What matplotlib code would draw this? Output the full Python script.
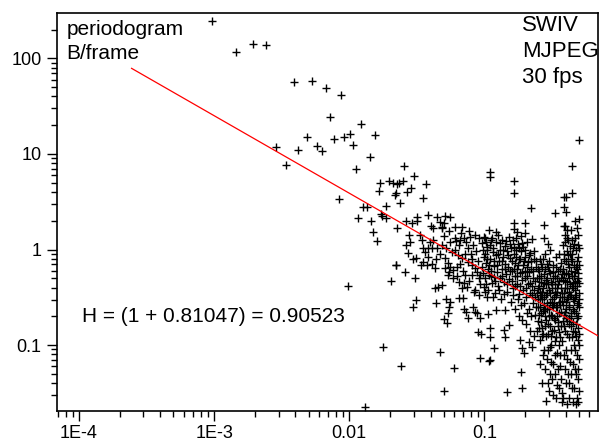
import numpy as np
import matplotlib
matplotlib.use("Agg")
import matplotlib.pyplot as plt
from matplotlib.ticker import FixedLocator, FixedFormatter, LogLocator, NullFormatter

plt.rcParams["font.family"] = ["Liberation Sans", "DejaVu Sans"]

# periodogram points, (log10 frequency, log10 power)
sparse_points = [
    (-3.015, 2.393), (-2.835, 2.069), (-2.711, 2.150), (-2.617, 2.139), (-2.539, 1.075),
    (-2.469, 0.887), (-2.410, 1.755), (-2.376, 1.041), (-2.313, 1.180), (-2.274, 1.766),
    (-2.235, 1.083), (-2.198, 1.030), (-2.168, 1.692), (-2.141, 1.386), (-2.109, 1.153),
    (-2.079, 0.525), (-2.059, 1.619), (-2.035, 1.180), (-2.010, -0.382), (-1.993, 1.205),
    (-1.973, 1.093), (-1.950, 0.845), (-1.931, 0.335), (-1.916, 1.316), (-1.894, 0.441),
    (-1.881, -1.647), (-1.869, 0.448), (-1.847, 0.964), (-1.837, 0.298), (-1.820, 0.183),
    (-1.807, 1.201), (-1.793, 0.086), (-1.780, 0.615), (-1.770, 0.699), (-1.761, 0.374),
    (-1.758, 0.350), (-1.746, -1.017), (-1.731, 0.455), (-1.724, 0.335), (-1.706, 0.717),
    (-1.693, -0.329), (-1.676, 0.692), (-1.664, 0.567), (-1.654, 0.588), (-1.657, -0.162),
    (-1.647, 0.682), (-1.647, 0.222), (-1.630, 0.699), (-1.627, 0.483), (-1.615, -1.219),
    (-1.600, 0.717), (-1.595, 0.873), (-1.587, -0.232), (-1.576, 0.295), (-1.573, 0.601),
    (-1.544, 0.640), (-1.536, 0.274), (-1.526, -0.598), (-1.519, 0.772), (-1.506, -0.528),
    (-1.499, 0.337), (-1.496, 0.301), (-1.450, 0.542), (-1.432, 0.685), (-1.413, 0.356),
    (-1.393, 0.246), (-1.383, 0.225), (-1.358, -0.563), (-1.350, 0.337), (-1.331, 0.291),
    (-1.326, -1.075), (-1.313, 0.238), (-1.301, 0.274), (-1.301, -1.485), (-1.299, -0.727),
    (-1.289, 0.350), (-1.284, -0.518), (-1.276, -0.772), (-1.269, -0.667), (-1.264, -0.605),
    (-1.257, 0.337), (-1.250, -0.552), (-1.227, -1.236), (-1.220, 0.238), (-1.165, 0.232),
    (-1.161, -0.504), (-1.153, -0.622), (-1.133, -0.657), (-1.121, -0.713), (-1.084, -0.601),
    (-1.067, -0.651), (-1.054, -0.667), (-1.047, -0.866), (-1.035, -0.720), (-1.035, -1.132),
    (-1.022, -0.887), (-0.973, -0.678), (-0.968, -1.169), (-0.956, 0.814), (-0.956, 0.762),
    (-0.931, -1.033), (-0.833, -1.487), (-0.778, 0.720), (-0.778, 0.591), (-0.778, 0.274),
    (-0.778, 0.218), (-0.726, -1.278), (-0.721, -1.452), (-0.699, 0.280), (-0.654, 0.431),
    (-0.556, 0.259), (-0.474, 0.382), (-0.407, 0.546), (-0.393, 0.546), (-0.407, 0.448),
    (-0.396, 0.389), (-0.400, 0.246), (-0.350, 0.588), (-0.350, 0.870), (-0.301, 1.142),
    (-0.301, 0.322), (-0.911, -0.633), (-0.844, -0.633), (-0.820, -0.790), (-0.857, -0.842),
    (-0.844, -0.912), (-0.956, -0.818), (-0.956, -0.912), (-0.956, -1.156), (-0.733, -0.947),
    (-0.721, -0.737), (-0.721, -1.033), (-0.709, -1.086), (-0.672, -0.964), (-0.647, -1.017),
]

mid_points = [
    (-1.556, 0.152), (-1.548, 0.082), (-1.565, -0.040), (-1.652, -0.162), (-1.506, -0.086),
    (-1.474, 0.152), (-1.461, 0.099), (-1.450, 0.019), (-1.417, 0.013), (-1.387, 0.013),
    (-1.350, 0.013), (-1.413, -0.075), (-1.387, -0.155), (-1.368, -0.190), (-1.450, -0.128),
    (-1.313, 0.222), (-1.301, 0.144), (-1.252, 0.082), (-1.210, 0.089), (-1.178, 0.099),
    (-1.153, 0.123), (-1.136, 0.082), (-1.104, 0.134), (-1.067, 0.152), (-1.215, -0.005),
    (-1.195, -0.058), (-1.165, -0.092), (-1.146, -0.050), (-1.121, -0.128), (-1.289, -0.092),
    (-1.269, -0.144), (-1.252, -0.180), (-1.235, -0.214), (-1.294, -0.197), (-1.264, -0.232),
    (-1.202, -0.180), (-1.091, -0.162), (-1.067, -0.197), (-1.054, -0.232), (-1.030, -0.267),
    (-1.013, -0.249), (-0.993, -0.301), (-0.968, -0.267), (-1.091, -0.267), (-1.111, -0.329),
    (-1.128, -0.389), (-1.190, -0.337), (-1.165, -0.400), (-1.339, -0.389), (-1.368, -0.400),
    (-1.313, -0.371), (-1.079, -0.441), (-1.042, -0.476), (-0.993, -0.441), (-0.980, -0.494),
    (-1.005, -0.389), (-1.042, 0.117), (-1.005, 0.134), (-1.017, 0.065), (-0.980, -0.005),
    (-1.190, 0.047), (-1.511, -0.301), (-1.190, -0.510), (-1.424, -0.162), (-1.313, 0.047),
    (-1.383, 0.099), (-1.280, 0.020), (-1.240, -0.030), (-1.220, 0.120), (-1.180, -0.150),
    (-1.160, -0.220), (-1.140, -0.270), (-1.120, 0.020), (-1.100, -0.050), (-1.090, -0.100),
    (-1.080, 0.050), (-1.060, -0.020), (-1.050, -0.120), (-1.040, -0.300), (-1.030, -0.360),
    (-1.020, -0.180), (-1.010, 0.000), (-1.000, -0.080), (-0.990, -0.140), (-0.985, 0.080),
    (-0.975, -0.200), (-1.200, -0.280), (-1.230, -0.300), (-1.270, -0.270), (-1.330, -0.050),
    (-1.360, -0.100), (-1.400, 0.080), (-1.440, -0.030), (-1.470, -0.160), (-1.530, -0.100),
    (-1.580, 0.050), (-1.150, -0.350), (-1.070, -0.420), (-1.110, 0.190), (-1.260, 0.190),
    (-1.170, 0.170),
]

high_points = [
    (-0.965, 0.20), (-0.960, 0.05), (-0.955, -0.10), (-0.950, -0.22), (-0.945, -0.35),
    (-0.940, 0.12), (-0.935, -0.03), (-0.930, -0.17), (-0.925, -0.29), (-0.920, -0.45),
    (-0.915, 0.08), (-0.910, -0.06), (-0.905, -0.24), (-0.900, -0.38), (-0.895, 0.15),
    (-0.890, -0.12), (-0.885, -0.30), (-0.880, 0.00), (-0.875, -0.52), (-0.870, -0.20),
    (-0.865, 0.10), (-0.860, -0.08), (-0.855, -0.34), (-0.850, -0.15), (-0.845, 0.04),
    (-0.840, -0.26), (-0.835, -0.44), (-0.830, -0.02), (-0.825, -0.18), (-0.820, 0.13),
    (-0.815, -0.31), (-0.810, -0.09), (-0.805, -0.55), (-0.800, 0.02), (-0.795, -0.22),
    (-0.790, -0.40), (-0.785, 0.10), (-0.780, -0.05), (-0.775, -0.28), (-0.770, -0.14),
    (-0.765, 0.00), (-0.760, -0.36), (-0.755, -0.20), (-0.750, 0.06), (-0.745, -0.10),
    (-0.740, -0.47), (-0.735, -0.25), (-0.730, 0.14), (-0.725, -0.02), (-0.720, -0.32),
    (-0.715, -0.16), (-0.710, 0.03), (-0.705, -0.56), (-0.700, -0.22), (-0.695, -0.08),
    (-0.690, -0.40), (-0.685, 0.08), (-0.680, -0.28), (-0.675, -0.13), (-0.670, -0.62),
    (-0.665, -0.35), (-0.660, -0.04), (-0.655, -0.20), (-0.650, -0.48), (-0.645, 0.11),
    (-0.640, -0.30), (-0.635, -0.10), (-0.630, -0.42), (-0.625, -0.68), (-0.620, -0.18),
    (-0.770, -0.62), (-0.740, -0.70), (-0.690, -0.78), (-0.660, -0.85), (-0.630, -0.90),
    (-0.760, 0.18), (-0.700, 0.17),
    (-0.615, -0.12), (-0.610, -0.30), (-0.607, -0.45), (-0.603, -0.60), (-0.600, -0.75),
    (-0.597, -0.22), (-0.593, -0.38), (-0.590, -0.52), (-0.587, -0.95), (-0.583, -0.15),
    (-0.580, -0.66), (-0.577, -0.28), (-0.573, -0.82), (-0.570, -0.44), (-0.567, -1.10),
    (-0.563, -0.10), (-0.560, -0.35), (-0.557, -0.58), (-0.553, -0.70), (-0.550, -1.25),
    (-0.547, -0.20), (-0.543, -0.48), (-0.540, -0.90), (-0.537, -0.62), (-0.533, -0.30),
    (-0.530, -1.40), (-0.527, -0.78), (-0.523, -0.12), (-0.520, -0.42), (-0.517, -1.02),
    (-0.513, -0.55), (-0.510, -0.25), (-0.507, -0.68), (-0.503, -1.18), (-0.500, -0.36),
    (-0.497, -0.85), (-0.493, -0.16), (-0.490, -1.52), (-0.487, -0.50), (-0.483, -0.72),
    (-0.480, -0.28), (-0.477, -0.96), (-0.473, -1.30), (-0.470, -0.60), (-0.467, -0.08),
    (-0.463, -0.40), (-0.460, -1.08), (-0.457, -0.80), (-0.453, -0.22), (-0.450, -1.45),
    (-0.447, -0.55), (-0.443, -0.33), (-0.440, -0.92), (-0.437, -1.22), (-0.433, -0.65),
    (-0.430, -0.14), (-0.427, -0.46), (-0.423, -1.60), (-0.420, -0.75),
    (-0.600, -0.40), (-0.580, -0.48), (-0.560, -0.62), (-0.540, -0.36), (-0.520, -0.70),
    (-0.500, -0.58), (-0.480, -0.44), (-0.460, -0.70), (-0.440, -0.50), (-0.590, -0.10),
    (-0.550, -0.05), (-0.530, -0.18), (-0.510, 0.00), (-0.490, -0.30), (-0.470, -0.18),
    (-0.450, -0.05), (-0.430, -0.30), (-0.570, -0.90), (-0.530, -1.05), (-0.510, -1.30),
    (-0.490, -1.20), (-0.470, -1.55), (-0.450, -1.00), (-0.430, -1.35), (-0.530, 0.06),
    (-0.560, 0.12),
    (-0.418, 0.05), (-0.415, -0.20), (-0.412, -0.45), (-0.410, -0.68), (-0.407, -0.10),
    (-0.405, -0.33), (-0.402, -0.85), (-0.400, 0.15), (-0.397, -0.55), (-0.395, -0.25),
    (-0.392, -1.05), (-0.390, -0.02), (-0.387, -0.40), (-0.385, -0.75), (-0.382, -0.15),
    (-0.380, -1.30), (-0.377, 0.10), (-0.375, -0.60), (-0.372, -0.30), (-0.370, -0.92),
    (-0.367, -0.05), (-0.365, -0.48), (-0.362, -1.18), (-0.360, -0.22), (-0.357, 0.20),
    (-0.355, -0.70), (-0.352, -0.38), (-0.350, -1.45), (-0.347, -0.12), (-0.345, -0.85),
    (-0.342, -0.52), (-0.340, 0.02), (-0.337, -1.00), (-0.335, -0.28), (-0.332, -0.64),
    (-0.330, -1.25), (-0.327, 0.12), (-0.325, -0.42), (-0.322, -0.78), (-0.320, -0.18),
    (-0.317, -1.55), (-0.315, -0.58), (-0.312, 0.22), (-0.310, -0.33), (-0.307, -0.95),
    (-0.305, -0.08), (-0.303, -0.70), (-0.301, -1.15), (-0.302, -0.45), (-0.304, -0.25),
    (-0.306, 0.05), (-0.303, -1.35), (-0.301, -0.88), (-0.302, -0.60), (-0.305, 0.15),
    (-0.410, 0.25), (-0.390, 0.20), (-0.370, -0.72), (-0.350, -0.05), (-0.330, -0.50),
    (-0.310, -0.20), (-0.400, -0.65), (-0.380, -0.50), (-0.360, -0.80), (-0.340, -0.35),
    (-0.320, -0.90), (-0.301, -0.35), (-0.415, -1.55), (-0.395, -1.40), (-0.370, -1.55),
    (-0.345, -1.60), (-0.325, -1.05), (-0.305, -1.60), (-0.330, 0.30),
]

dense_points = [
    (-0.998, -0.05), (-0.992, 0.12), (-0.987, -0.36), (-0.982, -0.10), (-0.977, 0.03),
    (-0.972, -0.42), (-0.962, -0.16), (-0.952, 0.10), (-0.947, -0.28), (-0.938, -0.50),
    (-0.932, 0.02), (-0.927, -0.12), (-0.918, -0.33), (-0.912, 0.18), (-0.903, -0.16),
    (-0.897, -0.05), (-0.888, -0.42), (-0.882, 0.07), (-0.872, -0.28), (-0.868, -0.12),
    (-0.858, 0.00), (-0.852, -0.47), (-0.843, -0.20), (-0.838, 0.09), (-0.828, -0.36),
    (-0.822, -0.06), (-0.813, -0.22), (-0.808, 0.06), (-0.798, -0.33), (-0.792, -0.12),
    (-0.788, -0.48), (-0.782, 0.03), (-0.778, -0.20), (-0.772, -0.38), (-0.767, -0.08),
    (-0.762, 0.12), (-0.757, -0.28), (-0.752, -0.52), (-0.747, -0.16), (-0.742, 0.02),
    (-0.737, -0.38), (-0.732, -0.10), (-0.727, -0.58), (-0.722, -0.24), (-0.717, 0.07),
    (-0.712, -0.42), (-0.707, -0.12), (-0.702, -0.30), (-0.697, 0.00), (-0.692, -0.50),
    (-0.687, -0.18), (-0.682, -0.66), (-0.677, -0.36), (-0.672, -0.06), (-0.667, -0.24),
    (-0.662, -0.45), (-0.657, -0.70), (-0.652, -0.12), (-0.647, -0.38), (-0.642, -0.56),
    (-0.637, -0.22), (-0.632, -0.02), (-0.627, -0.50), (-0.622, -0.33), (-0.617, -0.60),
    (-0.612, -0.85), (-0.605, -0.20), (-0.601, -0.52), (-0.598, -0.68), (-0.595, -0.30),
    (-0.592, -0.82), (-0.588, -0.44), (-0.585, -0.60), (-0.582, -0.34), (-0.578, -0.76),
    (-0.575, -0.52), (-0.572, -0.18), (-0.568, -0.64), (-0.565, -0.40), (-0.562, -0.88),
    (-0.558, -0.26), (-0.555, -0.50), (-0.552, -0.80), (-0.548, -0.62), (-0.545, -0.32),
    (-0.542, -0.74), (-0.538, -0.45), (-0.535, -0.15), (-0.532, -0.56), (-0.528, -0.88),
    (-0.525, -0.36), (-0.522, -0.62), (-0.518, -0.22), (-0.515, -0.80), (-0.512, -0.46),
    (-0.508, -0.34), (-0.505, -0.90), (-0.502, -0.52), (-0.498, -0.70), (-0.495, -0.40),
    (-0.492, -0.60), (-0.488, -0.24), (-0.485, -0.84), (-0.482, -0.56), (-0.478, -0.36),
    (-0.475, -0.74), (-0.472, -0.48), (-0.468, -0.92), (-0.465, -0.30), (-0.462, -0.60),
    (-0.458, -0.44), (-0.455, -0.76), (-0.452, -0.36), (-0.448, -0.66), (-0.445, -0.86),
    (-0.442, -0.20), (-0.438, -0.58), (-0.435, -0.40), (-0.432, -0.80), (-0.428, -0.54),
    (-0.425, -0.26), (-0.422, -0.96), (-0.590, -1.20), (-0.575, -1.40), (-0.560, -1.05),
    (-0.545, -1.58), (-0.535, -1.15), (-0.520, -1.48), (-0.505, -1.00), (-0.495, -1.35),
    (-0.480, -1.10), (-0.465, -1.42), (-0.455, -1.25), (-0.440, -1.10), (-0.428, -1.50),
    (-0.419, -0.32), (-0.416, -0.58), (-0.413, -0.05), (-0.411, -0.80), (-0.408, -0.26),
    (-0.406, -0.50), (-0.403, 0.08), (-0.401, -0.40), (-0.398, -0.72), (-0.396, -0.12),
    (-0.394, -0.62), (-0.391, -0.34), (-0.389, 0.12), (-0.386, -0.52), (-0.384, -0.88),
    (-0.381, -0.26), (-0.379, -0.06), (-0.376, -0.44), (-0.374, -0.78), (-0.371, -0.18),
    (-0.369, -0.58), (-0.366, 0.04), (-0.364, -0.36), (-0.361, -0.66), (-0.359, -0.10),
    (-0.356, -0.48), (-0.354, -0.92), (-0.351, -0.28), (-0.349, 0.10), (-0.346, -0.62),
    (-0.344, -0.40), (-0.341, -0.76), (-0.339, -0.16), (-0.336, -0.54), (-0.334, 0.06),
    (-0.331, -0.34), (-0.329, -0.86), (-0.326, -0.24), (-0.324, -0.66), (-0.321, -0.48),
    (-0.319, 0.00), (-0.316, -0.38), (-0.314, -0.72), (-0.311, -0.12), (-0.309, -0.56),
    (-0.306, -0.30), (-0.304, -0.82), (-0.302, -0.52), (-0.301, -0.16), (-0.301, 0.02),
    (-0.302, -1.00), (-0.303, -1.25), (-0.301, -1.48), (-0.410, -1.10), (-0.400, -1.25),
    (-0.385, -1.15), (-0.375, -1.40), (-0.360, -1.05), (-0.355, -1.30), (-0.340, -1.20),
    (-0.335, -1.45), (-0.320, -1.30), (-0.310, -1.10), (-0.318, -1.62), (-0.390, -1.62),
]

# fitted power law: P ~ f^(-beta), H = (1 + beta) / 2
beta = 0.81047
fit_amp = 0.0931
fit_range = [2.45e-4, 0.7]

x_ticks = [1e-4, 1e-3, 1e-2, 1e-1]
x_labels = ["1E-4", "1E-3", "0.01", "0.1"]
y_ticks = [0.1, 1, 10, 100]
y_labels = ["0.1", "1", "10", "100"]

fig = plt.figure(figsize=(6.03, 4.41), dpi=100)
ax = fig.add_axes([0.0945, 0.0687, 0.8972, 0.9018])

for pts in (sparse_points, mid_points, high_points, dense_points):
    lf, lp = np.array(pts).T
    ax.plot(10 ** lf, 10 ** lp, linestyle="none", marker="+", color="black",
            markersize=5.5, markeredgewidth=1.0, zorder=2)

fx = np.array(fit_range)
ax.plot(fx, fit_amp * fx ** (-beta), color="red", linewidth=0.9, zorder=3)

ax.set_xscale("log")
ax.set_yscale("log")
ax.set_xlim(6.87e-5, 0.695)
ax.set_ylim(0.0206, 298)

ax.xaxis.set_major_locator(FixedLocator(x_ticks))
ax.xaxis.set_major_formatter(FixedFormatter(x_labels))
ax.yaxis.set_major_locator(FixedLocator(y_ticks))
ax.yaxis.set_major_formatter(FixedFormatter(y_labels))
for axis in (ax.xaxis, ax.yaxis):
    axis.set_minor_locator(LogLocator(base=10, subs=np.arange(2, 10)))
    axis.set_minor_formatter(NullFormatter())

ax.tick_params(which="major", direction="out", length=7, width=1, labelsize=13)
ax.tick_params(which="minor", direction="out", length=4, width=1)
ax.tick_params(axis="x", which="major", pad=3)
ax.tick_params(axis="y", which="major", pad=4)
for sp in ax.spines.values():
    sp.set_linewidth(1.2)

ax.text(0.018, 0.982, "periodogram\nB/frame", transform=ax.transAxes,
        fontsize=15, va="top", ha="left", linespacing=1.35)
ax.text(0.859, 0.995, "SWIV\nMJPEG\n30 fps", transform=ax.transAxes,
        fontsize=16, va="top", ha="left", linespacing=1.3)
ax.text(0.0457, 0.224, "H = (1 + 0.81047) = 0.90523", transform=ax.transAxes,
        fontsize=15, va="baseline", ha="left")

fig.savefig("out.png", dpi=100)
